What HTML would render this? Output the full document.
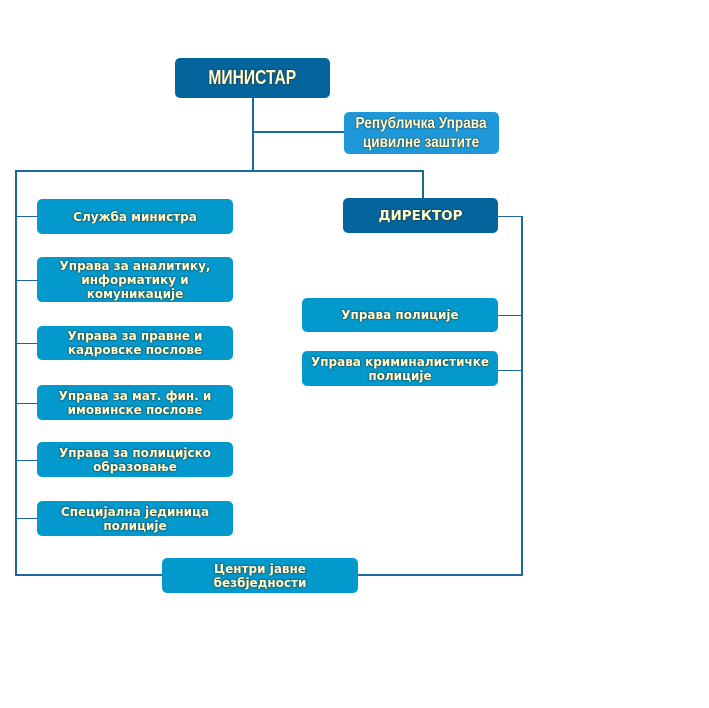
<!DOCTYPE html><html><head><meta charset="utf-8"><style>
body{margin:0;width:709px;height:708px;background:#fff;position:relative;overflow:hidden;font-family:"DejaVu Sans",sans-serif}
.b{position:absolute;border-radius:5px;background:#0399cc;color:#ffffd0;font-weight:bold;font-size:12px;line-height:14px;text-align:center;display:flex;align-items:center;justify-content:center;text-shadow:0 0 2px #333,0 0 1px #333}
.d{background:#03659b}
.l{position:absolute;background:#1a6aa0}
.c{font-family:"Liberation Sans",sans-serif}
.c span{display:inline-block;transform:scaleX(0.85)}
</style></head><body>
<div class="l" style="left:252px;top:98px;width:2px;height:74px"></div>
<div class="l" style="left:252px;top:131px;width:92px;height:2px"></div>
<div class="l" style="left:15px;top:170px;width:409px;height:2px"></div>
<div class="l" style="left:422px;top:170px;width:2px;height:28px"></div>
<div class="l" style="left:15px;top:170px;width:2px;height:406px"></div>
<div class="l" style="left:15px;top:574px;width:508px;height:2px"></div>
<div class="l" style="left:521px;top:216px;width:2px;height:360px"></div>
<div class="l" style="left:498px;top:216px;width:24px;height:1px"></div>
<div class="l" style="left:498px;top:315px;width:24px;height:1px"></div>
<div class="l" style="left:498px;top:370px;width:24px;height:1px"></div>
<div class="l" style="left:15px;top:216px;width:22px;height:1px"></div>
<div class="l" style="left:15px;top:280px;width:22px;height:1px"></div>
<div class="l" style="left:15px;top:343px;width:22px;height:1px"></div>
<div class="l" style="left:15px;top:403px;width:22px;height:1px"></div>
<div class="l" style="left:15px;top:460px;width:22px;height:1px"></div>
<div class="l" style="left:15px;top:518px;width:22px;height:1px"></div>

<div class="b d c" style="left:175px;top:58px;width:155px;height:40px;font-size:20px;line-height:20px"><span style="transform:scaleX(0.78)">МИНИСТАР</span></div>
<div class="b c" style="left:344px;top:112px;width:155px;height:42px;background:#1e98d8;font-size:16px;line-height:19px"><span>Републичка Управа<br>цивилне заштите</span></div>
<div class="b d" style="left:343px;top:198px;width:155px;height:35px;font-size:13.5px">ДИРЕКТОР</div>
<div class="b" style="left:37px;top:199px;width:196px;height:35px">Служба министра</div>
<div class="b" style="left:37px;top:257px;width:196px;height:45px">Управа за аналитику,<br>информатику и<br>комуникације</div>
<div class="b" style="left:37px;top:326px;width:196px;height:34px">Управа за правне и<br>кадровске послове</div>
<div class="b" style="left:37px;top:385px;width:196px;height:35px">Управа за мат. фин. и<br>имовинске послове</div>
<div class="b" style="left:37px;top:442px;width:196px;height:35px">Управа за полицијско<br>образовање</div>
<div class="b" style="left:37px;top:501px;width:196px;height:35px">Специјална јединица<br>полиције</div>
<div class="b" style="left:162px;top:558px;width:196px;height:35px">Центри јавне<br>безбједности</div>
<div class="b" style="left:302px;top:298px;width:196px;height:34px">Управа полиције</div>
<div class="b" style="left:302px;top:351px;width:196px;height:35px">Управа криминалистичке<br>полиције</div>
</body></html>
